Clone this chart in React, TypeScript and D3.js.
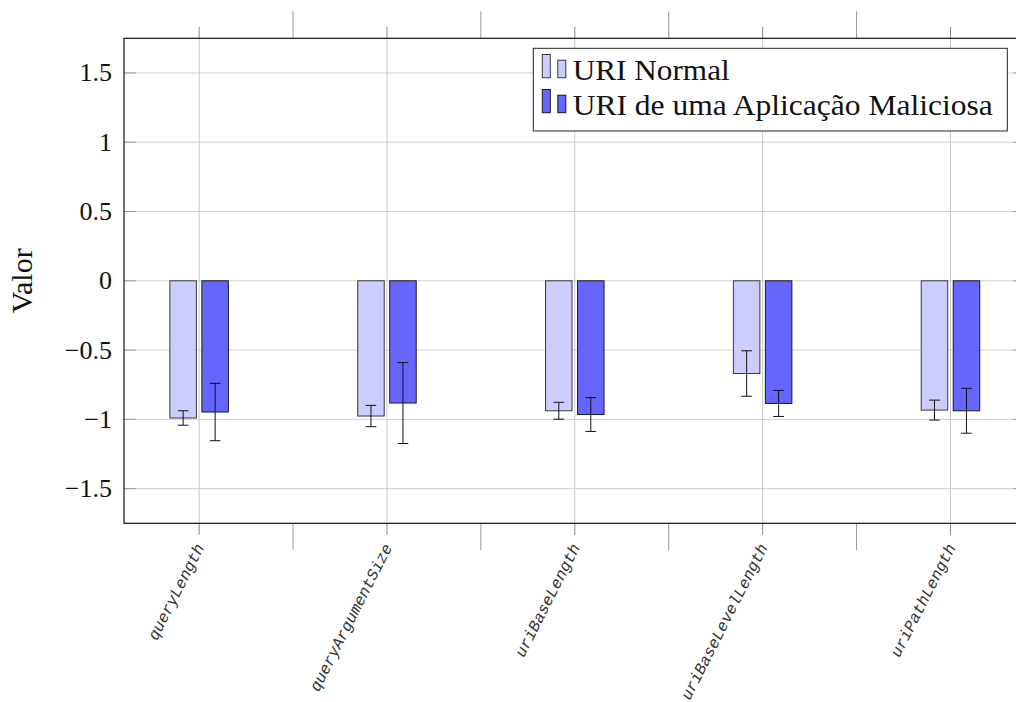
import React from "react";
import * as d3 from "d3";

const categories = ["queryLength", "queryArgumentSize", "uriBaseLength", "uriBaseLevelLength", "uriPathLength"];
const normalValues = [-0.99, -0.976, -0.938, -0.669, -0.933];
const normalErrors = [0.052, 0.077, 0.061, 0.164, 0.072];
const maliciousValues = [-0.947, -0.882, -0.965, -0.885, -0.938];
const maliciousErrors = [0.207, 0.292, 0.122, 0.094, 0.162];
const yTicks = [-1.5, -1, -0.5, 0, 0.5, 1, 1.5];
const seriesNames = ["URI Normal", "URI de uma Aplicação Maliciosa"];
const legendTextWidths = [157, 420];

const W = 1016, H = 702;
const left = 124, right = 1025.6, top = 38.3, bottom = 523.3;
const serif = "'Liberation Serif', 'DejaVu Serif', serif";

export default function App() {
  const x = d3.scaleLinear().domain([-0.4, categories.length - 0.6]).range([left, right]);
  const y = d3.scaleLinear().domain([-1.75, 1.75]).range([bottom, top]);
  const barW = 26.5;
  const off = 16;
  const colors = ["#ccccff", "#6666ff"];
  const strokes = ["#3a3a3a", "#1a1a1a"];
  const series = [
    { values: normalValues, errors: normalErrors },
    { values: maliciousValues, errors: maliciousErrors },
  ];
  const midTicks = d3.range(0.5, categories.length - 0.5, 1);
  const fmt = (v: number) => (v < 0 ? "\u2212" : "") + String(Math.abs(v));

  return (
    <svg width={W} height={H} style={{ position: "absolute", left: 0, top: 0, background: "#fff" }}>
      {yTicks.map((t) => (
        <line key={"hg" + t} x1={left} x2={right} y1={y(t)} y2={y(t)} stroke="#d0d0d0" strokeWidth={1} />
      ))}
      {categories.map((c, i) => (
        <line key={"vg" + c} x1={x(i)} x2={x(i)} y1={top} y2={bottom} stroke="#c8c8c8" strokeWidth={1} />
      ))}
      {yTicks.map((t) => (
        <g key={"yt" + t}>
          <line x1={left} x2={left + 12} y1={y(t)} y2={y(t)} stroke="#999" strokeWidth={1} />
          <line x1={right - 12} x2={right} y1={y(t)} y2={y(t)} stroke="#999" strokeWidth={1} />
        </g>
      ))}
      {categories.map((c, i) => (
        <g key={"xt" + c}>
          <line x1={x(i)} x2={x(i)} y1={top - 11.5} y2={top} stroke="#888" strokeWidth={1} />
          <line x1={x(i)} x2={x(i)} y1={bottom} y2={bottom + 11.5} stroke="#888" strokeWidth={1} />
        </g>
      ))}
      {midTicks.map((m) => (
        <g key={"mt" + m}>
          <line x1={x(m)} x2={x(m)} y1={top - 27} y2={top} stroke="#999" strokeWidth={1} />
          <line x1={x(m)} x2={x(m)} y1={bottom} y2={bottom + 27} stroke="#999" strokeWidth={1} />
        </g>
      ))}
      {series.map((s, si) =>
        s.values.map((v, i) => {
          const cx = x(i) + (si === 0 ? -off : off);
          return (
            <rect
              key={"b" + si + "-" + i}
              x={cx - barW / 2}
              y={y(0)}
              width={barW}
              height={y(v) - y(0)}
              fill={colors[si]}
              stroke={strokes[si]}
              strokeWidth={1}
            />
          );
        })
      )}
      {series.map((s, si) =>
        s.values.map((v, i) => {
          const cx = x(i) + (si === 0 ? -off : off);
          const e = s.errors[i];
          return (
            <g key={"e" + si + "-" + i} stroke="#111" strokeWidth={1}>
              <line x1={cx} x2={cx} y1={y(v + e)} y2={y(v - e)} />
              <line x1={cx - 5.3} x2={cx + 5.3} y1={y(v + e)} y2={y(v + e)} />
              <line x1={cx - 5.3} x2={cx + 5.3} y1={y(v - e)} y2={y(v - e)} />
            </g>
          );
        })
      )}
      <rect x={left} y={top} width={right - left} height={bottom - top} fill="none" stroke="#111" strokeWidth={1.2} />
      {yTicks.map((t) => (
        <text
          key={"yl" + t}
          x={112}
          y={y(t)}
          textAnchor="end"
          dominantBaseline="central"
          fontFamily={serif}
          fontSize={26}
          fill="#111"
        >
          {fmt(t)}
        </text>
      ))}
      <text
        transform={`translate(32,${y(0)}) rotate(-90)`}
        textAnchor="middle"
        fontFamily={serif}
        fontSize={30}
        fill="#111"
      >
        Valor
      </text>
      {categories.map((c, i) => (
        <text
          key={"xl" + c}
          transform={`translate(${x(i) + 2},${bottom + 22}) rotate(-63)`}
          textAnchor="end"
          dominantBaseline="central"
          fontFamily="'Liberation Mono', 'DejaVu Sans Mono', monospace"
          fontStyle="italic"
          fontSize={16}
          fill="#333"
        >
          {c}
        </text>
      ))}
      <g>
        <rect x={533.3} y={48.3} width={474} height={82.7} fill="#fff" stroke="#222" strokeWidth={1} />
        {seriesNames.map((n, si) => {
          const base = si === 0 ? 80 : 115;
          return (
            <g key={"lg" + si}>
              <rect x={542.3} y={base - 25.5} width={8} height={23.2} fill={colors[si]} stroke={strokes[si]} strokeWidth={1} />
              <rect x={557.8} y={base - 19.8} width={8} height={17.5} fill={colors[si]} stroke={strokes[si]} strokeWidth={1} />
              <text
                x={572.7}
                y={base}
                fontFamily={serif}
                fontSize={30}
                fill="#111"
                textLength={legendTextWidths[si]}
                lengthAdjust="spacingAndGlyphs"
              >
                {n}
              </text>
            </g>
          );
        })}
      </g>
    </svg>
  );
}
